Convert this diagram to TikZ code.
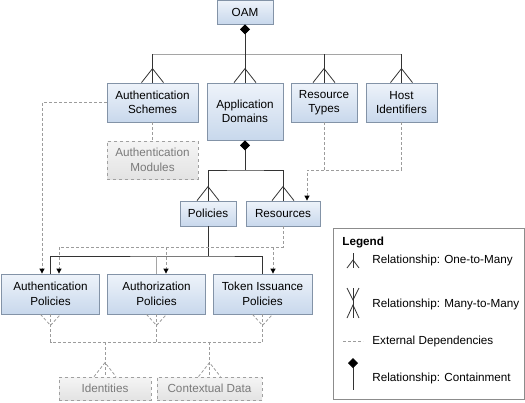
\documentclass[tikz,border=0pt]{standalone}
\usepackage{fontspec}
\setmainfont{Liberation Sans}
\usetikzlibrary{arrows.meta,shadows}
\definecolor{boxtop}{HTML}{EEF3FA}
\definecolor{boxbot}{HTML}{C8D8EC}
\definecolor{boxline}{HTML}{8393A7}
\definecolor{extline}{HTML}{A0A0A0}
\definecolor{exttext}{HTML}{7A7A7A}
\definecolor{depline}{HTML}{9C9C9C}
\definecolor{barline}{HTML}{A5A5A5}
\begin{document}
\begin{tikzpicture}[x=1pt,y=-1pt,line width=.8pt,
        >={Triangle[length=5pt,width=5pt,color=black]},
        every node/.style={font=\fontsize{11.7}{14.5}\selectfont,align=center,inner sep=0pt},
        entity/.style={draw=boxline,top color=boxtop,bottom color=boxbot,drop shadow={shadow xshift=.8pt,shadow yshift=-.8pt,opacity=.35}},
        extern/.style={draw=extline,dashed,top color=white!96!black,bottom color=white!89!black,text=exttext},
        dep/.style={depline,dash pattern=on 3pt off 2pt},
        link/.style={black!80},
        bar/.style={barline},
        pics/crowtop/.style={code={\draw (-11,0)--(0,-14)--(11,0);}},
        pics/crowbot/.style={code={\draw (-10,0)--(0,11)--(10,0);}},
        contain/.style={{Diamond[length=10pt,width=10pt,color=black]}-}]
    \useasboundingbox (0,0) rectangle (525,402);
    \node[entity,minimum width=56pt,minimum height=24pt] (oam) at (245,12) {OAM};
    \node[entity,minimum width=91pt,minimum height=39pt] (authschemes) at (152.5,102.5) {Authentication\\Schemes};
    \node[entity,minimum width=76pt,minimum height=57pt] (appdomains) at (245,111.5) {Application\\Domains};
    \node[entity,minimum width=66pt,minimum height=39pt] (restypes) at (324,102.5) {Resource\\Types};
    \node[entity,minimum width=71pt,minimum height=39pt] (hostids) at (401.5,102.5) {Host\\Identifiers};
    \node[extern,minimum width=91pt,minimum height=38pt] (authmodules) at (152.5,160) {Authentication\\Modules};
    \node[entity,minimum width=56pt,minimum height=25pt] (policies) at (208,213.5) {Policies};
    \node[entity,minimum width=74pt,minimum height=25pt] (resources) at (283,213.5) {Resources};
    \node[entity,minimum width=98pt,minimum height=40pt] (authnpol) at (50.5,294) {Authentication\\Policies};
    \node[entity,minimum width=98pt,minimum height=40pt] (authzpol) at (156.5,294) {Authorization\\Policies};
    \node[entity,minimum width=99pt,minimum height=40pt] (tokenpol) at (262.5,294) {Token Issuance\\Policies};
    \node[extern,minimum width=92pt,minimum height=23pt] (identities) at (105,388.5) {Identities};
    \node[extern,minimum width=105pt,minimum height=23pt] (ctxdata) at (209.5,388.5) {Contextual Data};
    \coordinate (oambar) at (245,54);
    \coordinate (adbar) at (245,170);
    \coordinate (rtjoin) at (307,170);
    \coordinate (polbar) at (208,256);
    \coordinate (resbar) at (283,247);
    \coordinate (idbar) at (157,342);
    \coordinate (anres) at ([xshift=8.5pt]authnpol.north);
    \coordinate (azres) at ([xshift=9.5pt]authzpol.north);
    \coordinate (tkres) at ([xshift=10.5pt]tokenpol.north);
    \draw[bar] (authschemes.north |- oambar) -- (hostids.north |- oambar);
    \draw[link,contain] (oam.south) -- (appdomains.north);
    \draw[link] (authschemes.north |- oambar) -- (authschemes.north);
    \draw[link] (restypes.north |- oambar) -- (restypes.north);
    \draw[link] (hostids.north |- oambar) -- (hostids.north);
    \foreach \n in {authschemes,appdomains,restypes,hostids} \pic[link] at (\n.north) {crowtop};
    \draw[link,contain] (appdomains.south) -- (adbar);
    \draw[link] (policies.north) |- (adbar) -| (resources.north);
    \foreach \n in {policies,resources} \pic[link] at (\n.north) {crowtop};
    \draw[dep] (restypes.south) -- (restypes.south |- rtjoin);
    \draw[dep,->] (hostids.south) |- (rtjoin) -- (rtjoin |- resources.north);
    \draw[dep] (authschemes.south) -- (authmodules.north);
    \draw[dep,->] (authschemes.west) -| ([xshift=-8.5pt]authnpol.north);
    \draw[link] (policies.south) -- (polbar);
    \draw[link] (authnpol.north) |- (polbar) -| (tokenpol.north);
    \draw[bar] (authzpol.north |- polbar) -- (authzpol.north);
    \draw[dep,->] (resources.south) |- (anres |- resbar) -- (anres);
    \draw[dep,->] (azres |- resbar) -- (azres);
    \draw[dep,->] (tkres |- resbar) -- (tkres);
    \draw[dep] (authnpol.south) |- (idbar) -| (tokenpol.south);
    \draw[dep] (authzpol.south) -- (authzpol.south |- idbar);
    \foreach \n in {authnpol,authzpol,tokenpol} \pic[dep] at (\n.south) {crowbot};
    \draw[dep] (identities.north |- idbar) -- (identities.north);
    \draw[dep] (ctxdata.north |- idbar) -- (ctxdata.north);
    \foreach \n in {identities,ctxdata} \pic[dep] at (\n.north) {crowtop};
    \node[draw=black!45,fill=white,minimum width=191pt,minimum height=171pt,drop shadow={shadow xshift=.8pt,shadow yshift=-.8pt,opacity=.3}] (legend) at (428.5,313.5) {};
    \node[anchor=west,font=\fontsize{11.7}{14.5}\selectfont\bfseries] (lgtitle) at (342,242) {Legend};
    \node[anchor=west] (lgone) at (372,260) {Relationship: One-to-Many};
    \node[anchor=west] (lgmany) at (372,304) {Relationship: Many-to-Many};
    \node[anchor=west] (lgext) at (372,341) {External Dependencies};
    \node[anchor=west] (lgcont) at (372,378) {Relationship: Containment};
    \draw[link] (353,253) -- (353,268);
    \draw[link] (347,268) -- (353,260) -- (359,268);
    \draw[link] (353,288) -- (353,318);
    \draw[link] (347,288) -- (353,300) -- (359,288);
    \draw[link] (347,318) -- (353,305) -- (359,318);
    \draw[dep] (343,341) -- (363,341);
    \draw[link,contain] (353,358) -- (353,390);
\end{tikzpicture}
\end{document}
